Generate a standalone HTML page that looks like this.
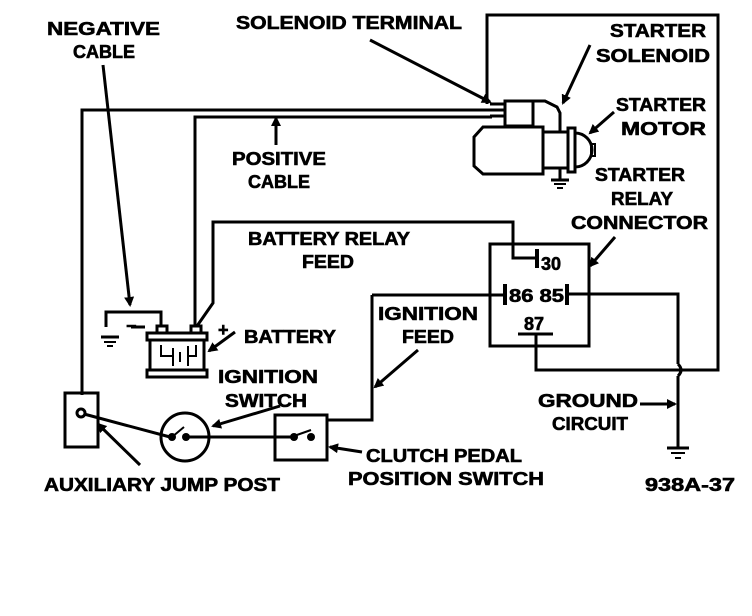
<!DOCTYPE html>
<html><head><style>
html,body{margin:0;padding:0;background:#fff;}
svg{display:block}
text{font-family:"Liberation Sans",sans-serif;font-weight:bold;font-size:18px;fill:#000;stroke:#000;stroke-width:0.6;}
</style></head><body>
<svg width="752" height="616" viewBox="0 0 752 616" xmlns="http://www.w3.org/2000/svg">
<defs><marker id="ah" markerWidth="10" markerHeight="10" refX="8" refY="5" orient="auto" markerUnits="userSpaceOnUse"><path d="M0,0 L10,5 L0,10 z" fill="#000"/></marker></defs>
<g stroke="#000" stroke-width="3" fill="none">
<polyline points="82,395 82,110 492,110"/>
<polyline points="195,325 195,117 492,117"/>
<polyline points="197,326 213,303 213,222 513,222 513,258 537,258"/>
<polyline points="487,104 487,15 718,15 718,370 536,370 536,334"/>
<rect x="490" y="244" width="99" height="102"/>
<line x1="537" y1="249" x2="537" y2="268" stroke-width="4"/>
<line x1="505" y1="284" x2="505" y2="305" stroke-width="4"/>
<line x1="567" y1="284" x2="567" y2="305" stroke-width="4"/>
<line x1="518" y1="334" x2="553" y2="334"/>
<polyline points="372,295 505,295"/>
<path d="M567,294 L678,294 L678,364 M678,376 L678,448"/>
<path d="M678,364 q6,6 0,12"/>
<line x1="667" y1="448" x2="689" y2="448"/><line x1="671" y1="453" x2="685" y2="453" stroke-width="2"/><line x1="675" y1="458" x2="681" y2="458" stroke-width="2"/>
<polyline points="372,295 372,420 327,420"/>
<rect x="275" y="415" width="52" height="45"/>
<line x1="210" y1="437" x2="293" y2="437"/>
<line x1="294" y1="436" x2="311" y2="430" stroke-width="2"/>
<circle cx="185" cy="437" r="24"/>
<line x1="84" y1="414" x2="170" y2="437"/>
<line x1="172" y1="437" x2="184" y2="427" stroke-width="2"/>
<line x1="186" y1="437" x2="210" y2="437"/>
<rect x="65" y="393" width="33" height="54"/>
<circle cx="81" cy="413" r="4"/>
<polyline points="106,327 106,312 161,312 161,326"/>
<line x1="101" y1="337" x2="119" y2="337"/><line x1="104" y1="342" x2="116" y2="342" stroke-width="2"/><line x1="107" y1="346" x2="113" y2="346" stroke-width="2"/>
<line x1="131" y1="327" x2="145" y2="327"/>
<rect x="147" y="333" width="60" height="7"/>
<rect x="147" y="370" width="60" height="7"/>
<line x1="150" y1="340" x2="150" y2="370"/><line x1="204" y1="340" x2="204" y2="370"/>
<rect x="157" y="326" width="10" height="7"/><rect x="191" y="326" width="10" height="7"/>
<polyline points="161,345 161,356 173,356" stroke-width="2"/><line x1="173" y1="348" x2="173" y2="366" stroke-width="2"/>
<line x1="180" y1="352" x2="180" y2="362" stroke-width="2"/><line x1="188" y1="346" x2="188" y2="366" stroke-width="2"/>
<polyline points="188,356 196,356 196,345" stroke-width="2"/>
<line x1="490" y1="104" x2="505" y2="104"/><line x1="490" y1="110" x2="505" y2="110"/><line x1="490" y1="116" x2="505" y2="116"/>
<rect x="505" y="101" width="28" height="25"/>
<path d="M533,101 L545,101 L557,107 L560,113 L560,132"/>
<path d="M483,127 L543,127 L543,174 L483,174 L474,166 L474,137 Z"/>
<rect x="543" y="132" width="25" height="36"/>
<rect x="568" y="128" width="7" height="44"/>
<path d="M575,133 A17,17 0 0 1 575,167"/>
<rect x="591" y="144" width="4" height="12" stroke-width="2"/>
<line x1="560" y1="168" x2="560" y2="180"/>
<line x1="551" y1="180" x2="569" y2="180"/><line x1="554" y1="184" x2="566" y2="184" stroke-width="2"/><line x1="557" y1="188" x2="563" y2="188" stroke-width="2"/>
<g marker-end="url(#ah)">
<line x1="103" y1="65" x2="130" y2="305"/>
<line x1="370" y1="40" x2="490" y2="102"/>
<line x1="590" y1="45" x2="563" y2="103"/>
<line x1="614" y1="112" x2="590" y2="133"/>
<line x1="276" y1="145" x2="276" y2="118"/>
<line x1="235" y1="332" x2="209" y2="351"/>
<line x1="615" y1="237" x2="590" y2="266"/>
<line x1="418" y1="350" x2="375" y2="387"/>
<line x1="280" y1="406" x2="213" y2="426"/>
<line x1="140" y1="465" x2="98" y2="424"/>
<line x1="362" y1="452" x2="330" y2="447"/>
<line x1="640" y1="404" x2="675" y2="404"/>
</g>
</g>
<circle cx="172" cy="437" r="4"/><circle cx="186" cy="437" r="4"/>
<circle cx="294" cy="437" r="4"/><circle cx="311" cy="437" r="4"/>
<text x="47" y="35" textLength="113" lengthAdjust="spacingAndGlyphs">NEGATIVE</text>
<text x="73" y="58" textLength="62" lengthAdjust="spacingAndGlyphs">CABLE</text>
<text x="236" y="29" textLength="226" lengthAdjust="spacingAndGlyphs">SOLENOID TERMINAL</text>
<text x="610" y="37" textLength="96" lengthAdjust="spacingAndGlyphs">STARTER</text>
<text x="596" y="62" textLength="114" lengthAdjust="spacingAndGlyphs">SOLENOID</text>
<text x="616" y="111" textLength="90" lengthAdjust="spacingAndGlyphs">STARTER</text>
<text x="621" y="135" textLength="85" lengthAdjust="spacingAndGlyphs">MOTOR</text>
<text x="595" y="181" textLength="90" lengthAdjust="spacingAndGlyphs">STARTER</text>
<text x="611" y="205" textLength="62" lengthAdjust="spacingAndGlyphs">RELAY</text>
<text x="571" y="229" textLength="137" lengthAdjust="spacingAndGlyphs">CONNECTOR</text>
<text x="232" y="165" textLength="94" lengthAdjust="spacingAndGlyphs">POSITIVE</text>
<text x="248" y="188" textLength="62" lengthAdjust="spacingAndGlyphs">CABLE</text>
<text x="248" y="245" textLength="162" lengthAdjust="spacingAndGlyphs">BATTERY RELAY</text>
<text x="302" y="268" textLength="52" lengthAdjust="spacingAndGlyphs">FEED</text>
<text x="378" y="320" textLength="100" lengthAdjust="spacingAndGlyphs">IGNITION</text>
<text x="402" y="343" textLength="52" lengthAdjust="spacingAndGlyphs">FEED</text>
<text x="218" y="336" font-size="22">+</text>
<text x="244" y="343" textLength="92" lengthAdjust="spacingAndGlyphs">BATTERY</text>
<text x="218" y="383" textLength="100" lengthAdjust="spacingAndGlyphs">IGNITION</text>
<text x="225" y="407" textLength="82" lengthAdjust="spacingAndGlyphs">SWITCH</text>
<text x="44" y="491" textLength="236" lengthAdjust="spacingAndGlyphs">AUXILIARY JUMP POST</text>
<text x="366" y="462" textLength="156" lengthAdjust="spacingAndGlyphs">CLUTCH PEDAL</text>
<text x="348" y="485" textLength="196" lengthAdjust="spacingAndGlyphs">POSITION SWITCH</text>
<text x="538" y="407" textLength="100" lengthAdjust="spacingAndGlyphs">GROUND</text>
<text x="552" y="430" textLength="76" lengthAdjust="spacingAndGlyphs">CIRCUIT</text>
<text x="645" y="491" textLength="90" lengthAdjust="spacingAndGlyphs">938A-37</text>
<text x="541" y="270" font-size="16">30</text>
<text x="509" y="302" font-size="16" textLength="55" lengthAdjust="spacingAndGlyphs">86 85</text>
<text x="524" y="330" font-size="16">87</text>
<text x="126" y="332" font-size="20">−</text>
</svg>
</body></html>
